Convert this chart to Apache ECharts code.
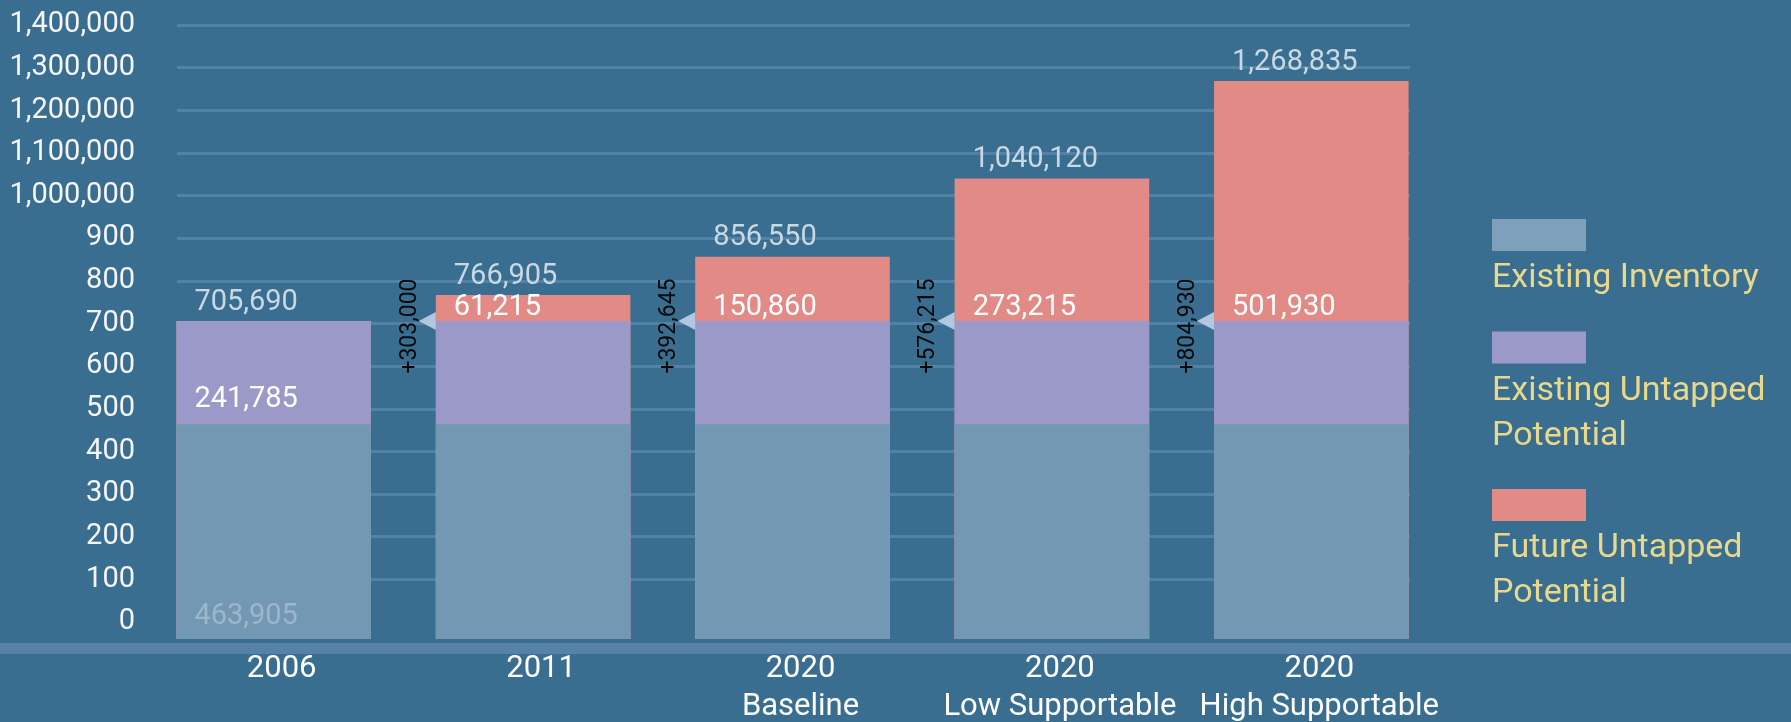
<!DOCTYPE html>
<html>
<head>
<meta charset="utf-8">
<script src="https://cdn.jsdelivr.net/npm/echarts@6/dist/echarts.min.js"></script>
<style>
html,body{margin:0;padding:0;background:#3a6e91;}
#chart{width:1791px;height:722px;}
</style>
</head>
<body>
<div id="chart"></div>
<script>
// ---- data ----
const categories = ['2006', '2011', '2020\nBaseline', '2020\nLow Supportable', '2020\nHigh Supportable'];
const existingInventory = [463905, 463905, 463905, 463905, 463905];
const inventoryPlusUntapped = [705690, 705690, 705690, 705690, 705690];
const totals = [705690, 766905, 856550, 1040120, 1268835];
const inventoryLabels = ['463,905', '', '', '', ''];
const untappedLabels = ['241,785', '', '', '', ''];
const futureLabels = ['', '61,215', '150,860', '273,215', '501,930'];
const totalLabels = ['705,690', '766,905', '856,550', '1,040,120', '1,268,835'];
const deltaLabels = ['', '+303,000', '+392,645', '+576,215', '+804,930'];
const yTickLabels = ['0', '100', '200', '300', '400', '500', '600', '700', '800', '900',
  '1,000,000', '1,100,000', '1,200,000', '1,300,000', '1,400,000'];
const legendNames = ['Existing Inventory', 'Existing Untapped Potential', 'Future Untapped Potential'];
const legendText = ['Existing Inventory', 'Existing Untapped\nPotential', 'Future Untapped\nPotential'];

// ---- style ----
const FONT = 'Roboto';
const C_INV = '#7398b4';
const C_UNT = '#9b99c8';
const C_FUT = '#e28a86';
const C_GRID = '#5283a7';

const chart = echarts.init(document.getElementById('chart'), null, {renderer: 'canvas'});

const option = {
  backgroundColor: '#3a6e91',
  animation: false,
  textStyle: {fontFamily: FONT},
  graphic: [
    {type: 'rect', left: 0, top: 643, shape: {width: 1791, height: 11}, style: {fill: '#5582a6'}, z: -1}
  ],
  legend: {
    orient: 'vertical',
    left: 1487,
    top: 219,
    padding: 0,
    itemGap: 36,
    itemWidth: 0,
    itemHeight: 0,
    icon: 'rect',
    selectedMode: false,
    data: legendNames,
    formatter: function (name) {
      const i = legendNames.indexOf(name);
      const lines = legendText[i].split('\n').map(s => '{t|' + s + '}').join('\n');
      return '{sw' + i + '|}\n{gap|}\n' + lines;
    },
    textStyle: {
      rich: {
        sw0: {width: 94, height: 32, backgroundColor: '#7ea0ba'},
        sw1: {width: 94, height: 32, backgroundColor: C_UNT},
        sw2: {width: 94, height: 32, backgroundColor: C_FUT},
        gap: {height: 5, lineHeight: 5},
        t: {fontSize: 34, lineHeight: 45, color: '#e8d88c', fontFamily: FONT}
      }
    }
  },
  grid: [
    {left: 177, right: 381, top: 25, bottom: 100, outerBoundsMode: 'none', containLabel: false},
    {left: 144, right: 350, top: 25, bottom: 83, outerBoundsMode: 'none', containLabel: false}
  ],
  xAxis: [
    {gridIndex: 0, type: 'value', min: 0, max: 1, show: false},
    {
      gridIndex: 1, type: 'category', data: categories,
      axisLine: {show: false, onZero: false}, axisTick: {show: false},
      axisLabel: {
        color: '#ffffff', fontSize: 31, lineHeight: 38, margin: 11, interval: 0,
        hideOverlap: false, fontFamily: FONT, padding: [0, 0, 0, 16]
      }
    }
  ],
  yAxis: [
    {
      gridIndex: 0, type: 'value', min: 0, max: 1400000, interval: 100000,
      axisLine: {show: false}, axisTick: {show: false},
      axisLabel: {
        color: '#f4f6f8', fontSize: 29, margin: 42, fontFamily: FONT,
        formatter: function (v) { return yTickLabels[Math.round(v / 100000)]; }
      },
      splitLine: {show: true, showMinLine: false, lineStyle: {color: C_GRID, width: 3}}
    },
    {
      gridIndex: 1, type: 'value', min: -40000, max: 1400000, startValue: -40000,
      show: false, splitLine: {show: false}
    }
  ],
  series: [
    {
      name: 'Future Untapped Potential', type: 'bar', xAxisIndex: 1, yAxisIndex: 1,
      data: totals, barWidth: '75%', barGap: '-100%', startValue: -40000,
      itemStyle: {color: C_FUT},
      label: {
        show: true, position: [18, -4], align: 'left', verticalAlign: 'bottom',
        fontSize: 29, lineHeight: 29, color: '#c9d9e3', fontFamily: FONT,
        formatter: p => totalLabels[p.dataIndex]
      }
    },
    {
      name: 'Existing Untapped Potential', type: 'bar', xAxisIndex: 1, yAxisIndex: 1,
      data: inventoryPlusUntapped.map((v, i) => ({
        value: v,
        label: untappedLabels[i] ? {position: [18, 93]} : {}
      })),
      barWidth: '75%', barGap: '-100%', startValue: -40000,
      itemStyle: {color: C_UNT},
      label: {
        show: true, position: [18, 1], align: 'left', verticalAlign: 'bottom',
        fontSize: 29, lineHeight: 29, color: '#ffffff', fontFamily: FONT,
        formatter: p => untappedLabels[p.dataIndex] || futureLabels[p.dataIndex]
      }
    },
    {
      name: 'Existing Inventory', type: 'bar', xAxisIndex: 1, yAxisIndex: 1,
      data: existingInventory, barWidth: '75%', barGap: '-100%', startValue: -40000,
      itemStyle: {color: C_INV},
      label: {
        show: true, position: [18, 207], align: 'left', verticalAlign: 'bottom',
        fontSize: 29, lineHeight: 29, color: '#9db6cc', fontFamily: FONT,
        formatter: p => inventoryLabels[p.dataIndex]
      }
    },
    {
      name: 'delta', type: 'custom', xAxisIndex: 1, yAxisIndex: 1, z: 5,
      data: inventoryPlusUntapped.map((v, i) => [i, v]),
      encode: {x: 0, y: 1},
      renderItem: function (params, api) {
        const idx = api.value(0);
        const lbl = deltaLabels[idx];
        if (!lbl) return null;
        const p = api.coord([idx, api.value(1)]);
        const bw = api.size([1, 0])[0] * 0.75;
        const left = p[0] - bw / 2;
        return {
          type: 'group',
          children: [
            {type: 'polygon', shape: {points: [[left, p[1] - 9], [left, p[1] + 9], [left - 17, p[1]]]},
             style: {fill: 'rgba(190,208,232,0.9)'}},
            {type: 'text', x: left - 26, y: p[1] + 5, rotation: Math.PI / 2,
             style: {text: lbl, fill: '#0a0a0a', font: '23px Roboto', align: 'center', verticalAlign: 'middle'}}
          ]
        };
      }
    }
  ]
};
chart.setOption(option);
</script>
</body>
</html>
